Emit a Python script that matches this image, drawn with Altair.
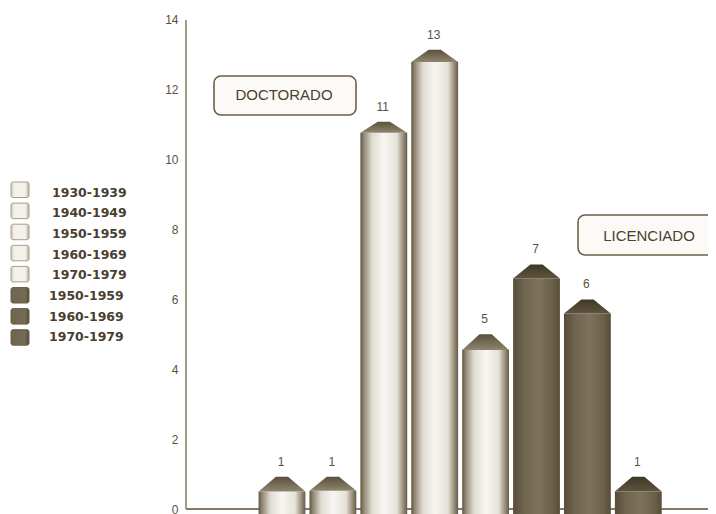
import altair as alt
import pandas as pd

# ---- values ----
periods = ["1930-1939", "1940-1949", "1950-1959", "1960-1969", "1970-1979",
           "1950-1959", "1960-1969", "1970-1979"]
degrees = ["Doctorado"] * 5 + ["Licenciado"] * 3
labels = [1, 1, 11, 13, 5, 7, 6, 1]
shoulder = [0.50, 0.52, 10.77, 12.80, 4.55, 6.60, 5.60, 0.50]
peak = [0.92, 0.92, 11.09, 13.15, 5.00, 7.00, 6.00, 0.92]
y_ticks = [0, 2, 4, 6, 8, 10, 12, 14]

# ---- page geometry helpers (page pixels -> data units) ----
PX_X, PX_Y = 50.9, 34.93
def ux(px):
    return (px - 282) / PX_X
def uy(py):
    return (509 - py) / PX_Y

W, H = 700, 506
x_scale = alt.Scale(domain=[ux(8), ux(708)], nice=False, zero=False)
y_scale = alt.Scale(domain=[uy(514), uy(8)], nice=False, zero=False)
y_axis_def = alt.Axis(values=y_ticks, offset=-170, domain=False, ticks=False, grid=False,
                      labelPadding=0, labelFont="Liberation Sans", labelFontSize=12,
                      labelColor="#5b5140", format="d", title=None)
X = lambda f: alt.X(f, type="quantitative", scale=x_scale, axis=None)
Y = lambda f: alt.Y(f, type="quantitative", scale=y_scale, axis=y_axis_def)

HALF = 0.46
FLOOR = uy(514)
bars = pd.DataFrame({
    "i": range(8), "period": periods, "degree": degrees, "label": labels,
    "shoulder": shoulder, "peak": peak,
})
bars["x0"] = bars.i - HALF
bars["x1"] = bars.i + HALF
bars["floor"] = FLOOR

caps = []
for b in bars.itertuples():
    for dx, top in [(-HALF, b.shoulder), (-0.12, b.peak), (0.12, b.peak), (HALF, b.shoulder)]:
        caps.append({"i": b.i, "degree": b.degree, "cx": b.i + dx, "top": top, "base": b.shoulder})
caps = pd.DataFrame(caps)

def hgrad(stops):
    return alt.LinearGradient(gradient="linear", x1=0, x2=1, y1=0, y2=0,
                              stops=[alt.GradientStop(offset=o, color=c) for o, c in stops])
def vgrad(stops):
    return alt.LinearGradient(gradient="linear", x1=0, x2=0, y1=0, y2=1,
                              stops=[alt.GradientStop(offset=o, color=c) for o, c in stops])

LIGHT = hgrad([(0, "#5f553f"), (0.07, "#8f8570"), (0.25, "#e0dcd2"), (0.5, "#f8f6f2"),
               (0.78, "#e6e2d9"), (0.93, "#8f8570"), (1, "#665c46")])
DARK = hgrad([(0, "#574d38"), (0.25, "#70654f"), (0.55, "#7d725b"), (0.85, "#6a5f49"), (1, "#574d38")])
LIGHT_CAP = vgrad([(0, "#5a503b"), (1, "#8f866f")])
DARK_CAP = vgrad([(0, "#3f3726"), (1, "#5f543f")])

light = bars[bars.degree == "Doctorado"]
dark = bars[bars.degree == "Licenciado"]

def body(df, fill):
    return alt.Chart(df).mark_rect(color=fill).encode(
        x=X("x0"), x2="x1", y=Y("floor"), y2="shoulder")
def cap(df, fill):
    return alt.Chart(df).mark_area(color=fill, interpolate="linear").encode(
        x=X("cx"), y=Y("top"), y2="base", detail="i:N")

# axes
axis_line = "#857a63"
tick_df = pd.DataFrame({"xa": [ux(186)], "xb": [ux(708)], "y0": [0.0], "y1": [14.0]})
y_axis = alt.Chart(tick_df).mark_rule(color=axis_line, strokeWidth=1.5).encode(
    x=X("xa"), y=Y("y0"), y2="y1")
x_axis = alt.Chart(tick_df).mark_rule(color=axis_line, strokeWidth=2).encode(
    x=X("xa"), x2="xb", y=Y("y0"))

# value labels
value_text = alt.Chart(bars).mark_text(
    font="Liberation Sans", fontSize=12, color="#5b5140", dy=-15, dx=-1
).encode(x=X("i"), y=Y("peak"), text="label:Q")

# legend
rows = pd.DataFrame({"period": periods, "degree": degrees, "n": range(8)})
rows["sx0"] = ux(11)
rows["sx1"] = ux(29)
rows["sy0"] = [uy(182 + 21.1 * n) for n in rows.n]
rows["sy1"] = [uy(197.5 + 21.1 * n) for n in rows.n]
rows["ty"] = [uy(192.5 + 20.7 * n) for n in rows.n]
rows["tx"] = [ux(52) if d == "Doctorado" else ux(49) for d in rows.degree]
SW_L = hgrad([(0, "#cfcabb"), (0.2, "#f3f1ec"), (0.8, "#f3f1ec"), (1, "#b5ad98")])
SW_D = hgrad([(0, "#6f644e"), (0.8, "#756a53"), (1, "#4f4632")])
sw_light = alt.Chart(rows[rows.degree == "Doctorado"]).mark_rect(
    color=SW_L, stroke="#a89f88", strokeWidth=1, cornerRadius=2
).encode(x=X("sx0"), x2="sx1", y=Y("sy0"), y2="sy1")
sw_dark = alt.Chart(rows[rows.degree == "Licenciado"]).mark_rect(
    color=SW_D, stroke="#6b604a", strokeWidth=1, cornerRadius=2
).encode(x=X("sx0"), x2="sx1", y=Y("sy0"), y2="sy1")
leg_text = alt.Chart(rows).mark_text(
    font="DejaVu Sans", fontWeight="bold", fontSize=12.5, color="#4a4030", align="left", baseline="middle"
).encode(x=X("tx"), y=Y("ty"), text="period:N")

# boxes
boxes = pd.DataFrame({
    "name": ["DOCTORADO", "LICENCIADO"],
    "bx0": [ux(214), ux(578)], "bx1": [ux(356), ux(720)],
    "by0": [uy(76), uy(215)], "by1": [uy(115), uy(255)],
    "tx": [ux(284), ux(649)], "ty": [uy(95), uy(236)],
})
box = alt.Chart(boxes).mark_rect(
    fill="#fbfaf7", stroke="#6b5f48", strokeWidth=1.6, cornerRadius=7
).encode(x=X("bx0"), x2="bx1", y=Y("by0"), y2="by1")
box_text = alt.Chart(boxes).mark_text(
    font="Liberation Sans", fontSize=15, color="#4a4030", baseline="middle"
).encode(x=X("tx"), y=Y("ty"), text="name:N")

chart = alt.layer(
    y_axis, x_axis,
    body(light, LIGHT), body(dark, DARK),
    cap(caps[caps.degree == "Doctorado"], LIGHT_CAP),
    cap(caps[caps.degree == "Licenciado"], DARK_CAP),
    value_text, sw_light, sw_dark, leg_text, box, box_text,
).properties(
    width=W, height=H, background="white",
    padding=0, autosize=alt.AutoSizeParams(type="none"),
).configure_view(stroke=None)

chart.save("out.html", embed_options={"renderer": "svg", "actions": False})
